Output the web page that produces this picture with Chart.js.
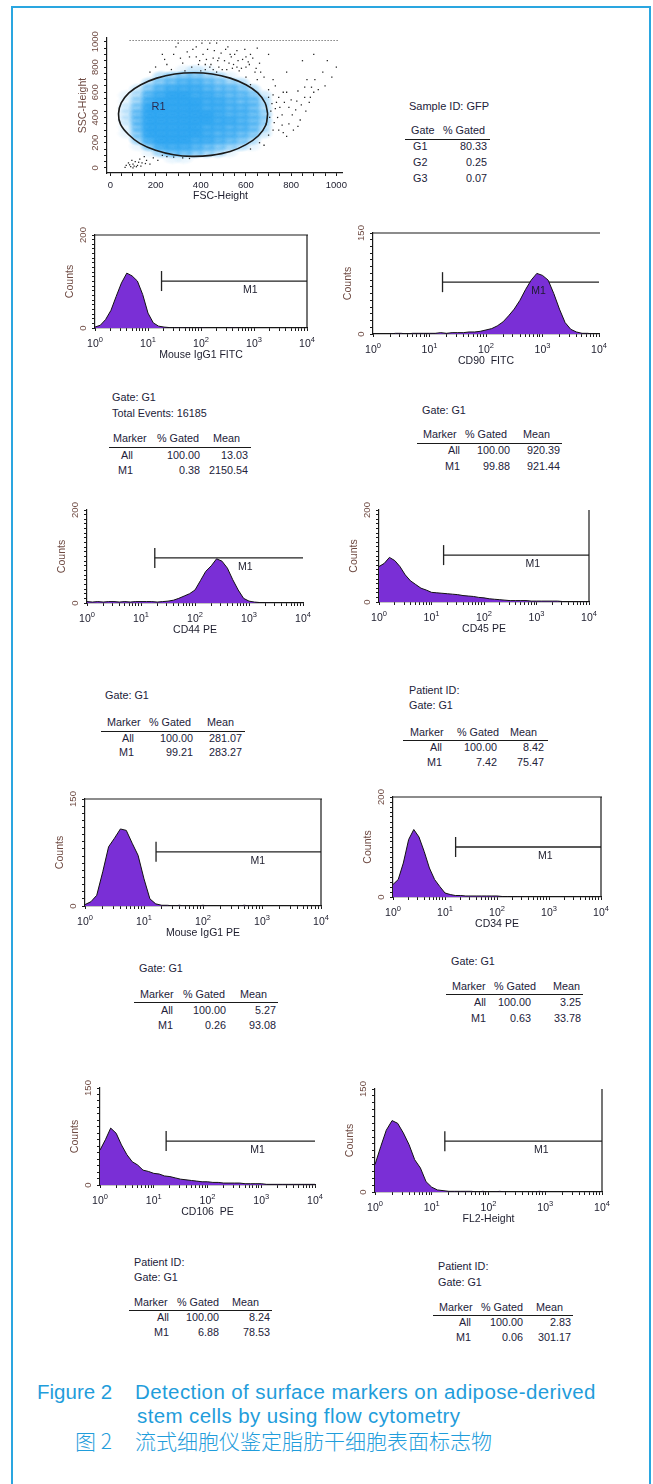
<!DOCTYPE html>
<html lang="en">
<head>
<meta charset="UTF-8" />
<title>Figure 2 - flow cytometry of adipose-derived stem cells</title>
<script src="https://cdn.jsdelivr.net/npm/chart.js"></script>
<style>
  body { margin: 0; background: #fff; font-family: "Liberation Sans", Arial, sans-serif; }
  #page { position: relative; width: 653px; height: 1484px; overflow: hidden; background: #fff; }
  #frame { position: absolute; left: 11px; top: 6px; width: 636px; height: 1520px; border: 2px solid #2aa6e0; border-bottom: none; }
  canvas { position: absolute; }
  .t { position: absolute; font-size: 10.8px; line-height: 12px; color: #22223a; white-space: nowrap; }
  .r { text-align: right; width: 80px; }
  .hr { position: absolute; height: 0; border-top: 1.5px solid #1a1a1a; }
  .cap { position: absolute; color: #1f9ddb; font-size: 20.5px; line-height: 24px; white-space: nowrap; }
  .wide { letter-spacing: 0.4px; }
  .zh { font-family: "Noto Sans CJK SC", sans-serif; font-weight: 300; font-size: 21px; letter-spacing: 0; }
</style>
</head>
<body>
<div id="page"><div id="frame"></div></div>

<script>
  // ---- scatter: FSC vs SSC ----
  // event density (0-9) in 50-unit cells, rows from SSC 975 (top) down to 25
  const sscFscDensity = [
    [0,0,0,0,0,0,0,0,0,0,0,0,0,0,0,0,0,0,0,0],
    [0,0,0,0,0,0,0,0,0,0,0,0,0,0,0,0,0,0,0,0],
    [0,0,0,0,0,0,0,0,0,0,0,0,0,0,0,0,0,0,0,0],
    [0,0,0,0,0,0,0,0,0,0,0,0,0,0,0,0,0,0,0,0],
    [0,0,0,0,0,0,1,2,1,0,0,0,0,0,0,0,0,0,0,0],
    [0,0,0,0,3,4,5,5,4,3,1,0,0,0,0,0,0,0,0,0],
    [0,0,0,3,5,6,7,7,6,5,4,3,0,0,0,0,0,0,0,0],
    [0,0,2,5,7,8,8,8,7,6,6,5,3,0,0,0,0,0,0,0],
    [0,1,3,7,8,9,9,8,8,7,6,6,5,2,0,0,0,0,0,0],
    [0,1,4,8,9,9,9,9,8,8,7,6,6,3,0,0,0,0,0,0],
    [0,2,5,9,9,9,9,9,8,8,7,7,6,3,0,0,0,0,0,0],
    [0,2,6,9,9,9,9,9,9,8,7,7,6,4,0,0,0,0,0,0],
    [0,2,6,9,9,9,9,9,9,8,8,7,6,4,0,0,0,0,0,0],
    [0,1,6,9,9,9,9,9,8,8,7,7,6,3,0,0,0,0,0,0],
    [0,1,5,9,9,9,9,9,8,7,7,6,5,2,0,0,0,0,0,0],
    [0,0,4,8,9,9,9,8,8,7,6,5,3,0,0,0,0,0,0,0],
    [0,0,1,5,8,8,8,7,6,5,4,3,1,0,0,0,0,0,0,0],
    [0,0,0,1,4,6,6,5,4,3,1,0,0,0,0,0,0,0,0,0],
    [0,0,0,0,0,1,1,0,0,0,0,0,0,0,0,0,0,0,0,0],
    [0,0,0,0,0,0,0,0,0,0,0,0,0,0,0,0,0,0,0,0]
  ];
  // events outside the R1 gate [FSC, SSC]
  const outlierEvents = [
    [310,870],[340,920],[360,800],[380,960],[395,850],[410,900],[420,780],[430,940],[445,820],[455,870],
    [470,990],[480,800],[490,910],[505,850],[515,780],[520,960],[535,880],[545,820],[560,930],[570,770],
    [585,860],[600,800],[620,900],[640,760],[660,830],[250,820],[270,780],[290,960],[230,900],[330,770],
    [400,770],[470,760],[380,880],[455,780],[540,790],[600,720],[620,660],[700,620],[720,580],[735,520],
    [750,480],[760,420],[780,600],[800,540],[820,460],[840,380],[860,560],[880,520],[900,600],[690,350],
    [720,300],[760,340],[780,250],[710,450],[740,400],[810,300],[870,700],[960,850],[1000,800],[950,650],
    [980,720],[850,850],[780,760],[720,700],[900,900],[70,20],[80,40],[90,10],[95,60],[100,30],
    [110,50],[120,20],[130,70],[140,40],[150,90],[160,60],[175,30],[190,80],[210,60],[230,100],
    [250,90],[280,85],[320,80],[350,75],[100,0],[85,25],[65,5],[620,150],[660,200],[700,260],
    [680,180],[730,650],[770,520],[830,610],[890,640],[610,840],[650,950],[700,900],[300,990],[440,990],
    [320,830],[350,880],[365,940],[390,820],[405,990],[425,860],[440,800],[460,930],[475,850],[495,780],
    [510,940],[525,830],[550,900],[565,850],[580,790],[595,940],[615,820],[630,870],[645,790],[665,760],
    [680,720],[650,700],[700,560],[715,510],[730,470],[745,560],[765,600],[790,480],[805,420],[825,530],
    [845,500],[865,450],[885,560],[705,400],[725,360],[745,300],[765,280],[790,350],[830,330],[860,640],
    [905,700],[920,620],[940,760],[420,820],[480,870],[530,900],[560,800],[600,880],[240,860],[200,800],
    [280,900],[175,760],[115,10],[135,15],[155,35],[125,45],[105,15]
  ];
  const saturatedRow = [[85, 1010], [1010, 1010]];
  const gateR1 = [
    [696,430],[685,515],[652,595],[600,660],[530,712],[450,745],[370,755],[285,745],[205,712],[135,660],
    [82,595],[48,515],[36,430],[45,345],[80,265],[130,195],[200,140],[280,105],[360,92],[445,100],
    [530,130],[600,185],[655,255],[688,340],[696,430]
  ];
  const scatterTickLabels = [0, 200, 400, 600, 800, 1000];

  // ---- histograms: counts at 0.1-decade channels ----
  const channels = [1, 1.26, 1.58, 2, 2.51, 3.16, 3.98, 5.01, 6.31, 7.94,
    10, 12.6, 15.8, 20, 25.1, 31.6, 39.8, 50.1, 63.1, 79.4,
    100, 126, 158, 200, 251, 316, 398, 501, 631, 794,
    1000, 1259, 1585, 1995, 2512, 3162, 3981, 5012, 6310, 7943, 10000];
  const mouseIgG1Fitc = [2,6,18,38,68,97,118,112,101,72, 32,11,4,2,1,1,0,1,0,0, 1,0,0,0,0,0,1,0,0,0, 0,0,0,0,0,0,0,0,0,0, 0];
  const cd90Fitc      = [0,0,0,0,1,1,0,1,1,1, 1,1,2,1,2,2,2,3,3,4, 6,8,12,18,27,37,50,66,80,90, 87,80,60,37,17,7,3,1,1,0, 0];
  const cd44Pe        = [3,2,3,2,3,3,2,3,2,3, 3,3,3,2,3,4,6,10,15,20, 28,48,68,80,95,90,75,50,28,10, 4,2,1,1,0,0,0,0,0,0, 0];
  const cd45Pe        = [77,84,97,90,77,59,46,38,30,26, 21,20,19,18,17,16,14,13,12,10, 9,7,6,5,4,3,3,3,3,2, 2,2,2,2,2,1,1,1,1,1, 1];
  const mouseIgG1Pe   = [2,6,15,48,83,95,108,106,88,71, 38,10,3,1,1,0,1,0,0,0, 1,0,0,0,0,0,0,1,0,0, 0,0,0,0,0,0,0,0,0,0, 0];
  const cd34Pe        = [25,35,68,115,135,120,91,58,35,21, 8,5,3,3,2,2,2,2,2,2, 2,1,1,1,1,0,0,0,0,0, 0,0,0,0,0,0,0,0,0,0, 0];
  const cd106Pe       = [54,70,88,80,62,47,36,31,23,21, 18,17,14,13,11,9,8,7,6,5, 5,4,4,3,3,3,3,2,2,2, 2,1,1,1,1,1,1,1,1,1, 1];
  const fl2Height     = [40,66,90,104,100,86,69,47,35,15, 7,3,2,1,1,1,1,1,0,1, 0,0,1,0,0,0,0,0,0,1, 0,0,0,0,0,0,0,0,0,0, 0];

  const histTitles = ['Mouse IgG1 FITC', 'CD90  FITC', 'CD44 PE', 'CD45 PE', 'Mouse IgG1 PE', 'CD34 PE', 'CD106  PE', 'FL2-Height'];
  const histMax = [200, 150, 200, 200, 150, 200, 150, 150];
  const m1Start = [18, 17, 18, 17, 16, 16, 17, 17];
  const m1Level = [101, 77, 97, 102, 76, 100, 68, 74];
  const decades = [1, 10, 100, 1000, 10000];
  const decadeExp = ['0', '1', '2', '3', '4'];

  // ---- statistics tables ----
  const gateNames = ['G1', 'G2', 'G3'];
  const gatePct = [80.33, 0.25, 0.07];
  const pctAll = [100, 100, 100, 100, 100, 100, 100, 100];
  const pctM1 = [0.38, 99.88, 99.21, 7.42, 0.26, 0.63, 6.88, 0.06];
  const meanAll = [13.03, 920.39, 281.07, 8.42, 5.27, 3.25, 8.24, 2.83];
  const meanM1 = [2150.54, 921.44, 283.27, 75.47, 93.08, 33.78, 78.53, 301.17];

  const page = document.getElementById('page');
  const INK = '#1c1c2c';
  const BROWN = '#6e4a42';

  function addCanvas(left, top, w, h) {
    const cv = document.createElement('canvas');
    cv.width = w; cv.height = h;
    cv.style.left = left + 'px'; cv.style.top = top + 'px';
    page.appendChild(cv);
    return cv;
  }

  function rotText(ctx, txt, x, y) {
    ctx.save();
    ctx.translate(x, y);
    ctx.rotate(-Math.PI / 2);
    ctx.textAlign = 'center'; ctx.textBaseline = 'middle';
    ctx.fillText(txt, 0, 0);
    ctx.restore();
  }

  // axis labels, frame and marker label for the FACS-style panels
  const facsText = {
    id: 'facs',
    afterDraw(chart, args, o) {
      const { ctx, chartArea: a, scales: { x, y } } = chart;
      ctx.save();
      ctx.strokeStyle = '#1a1a1a'; ctx.lineWidth = 1.2;
      ctx.beginPath();
      if (o.frame === 'box' || o.frame === 'top') { ctx.moveTo(a.left, a.top); ctx.lineTo(a.right + 1, a.top); }
      if (o.frame === 'box' || o.frame === 'right') { ctx.moveTo(a.right, a.top); ctx.lineTo(a.right, a.bottom); }
      ctx.stroke();

      ctx.fillStyle = INK;
      if (o.kind === 'hist') {
        decades.forEach((d, i) => {
          const px = x.getPixelForValue(d);
          ctx.font = '10.5px "Liberation Sans"';
          const w1 = ctx.measureText('10').width;
          ctx.font = '7.5px "Liberation Sans"';
          const w2 = ctx.measureText(decadeExp[i]).width;
          const x0 = px - (w1 + w2) / 2;
          ctx.textAlign = 'left'; ctx.textBaseline = 'alphabetic';
          ctx.font = '10.5px "Liberation Sans"';
          ctx.fillText('10', x0, a.bottom + 19);
          ctx.font = '7.5px "Liberation Sans"';
          ctx.fillText(decadeExp[i], x0 + w1, a.bottom + 14);
        });
        ctx.font = '10.5px "Liberation Sans"';
        ctx.textAlign = 'center'; ctx.textBaseline = 'middle';
        ctx.fillText(o.title, (a.left + a.right) / 2, a.bottom + 27);
        ctx.font = '10.5px "Liberation Sans"';
        ctx.fillText('M1', x.getPixelForValue(850), y.getPixelForValue(o.m1) + 9);
        ctx.fillStyle = BROWN;
        ctx.font = '9.5px "Liberation Sans"';
        rotText(ctx, String(o.ymax), a.left - 12, y.getPixelForValue(o.ymax));
        rotText(ctx, '0', a.left - 12, y.getPixelForValue(0));
        ctx.font = '10.5px "Liberation Sans"';
        rotText(ctx, 'Counts', a.left - 25, (a.top + a.bottom) / 2);
      } else {
        ctx.font = '9.5px "Liberation Sans"';
        ctx.textAlign = 'center'; ctx.textBaseline = 'middle';
        scatterTickLabels.forEach(v => ctx.fillText(String(v), x.getPixelForValue(v), a.bottom + 12));
        ctx.font = '10.5px "Liberation Sans"';
        ctx.fillText('FSC-Height', (a.left + a.right) / 2 - 4, a.bottom + 23);
        ctx.fillStyle = '#2a2a50';
        ctx.font = '11px "Liberation Sans"';
        ctx.fillText('R1', x.getPixelForValue(213), y.getPixelForValue(486));
        ctx.fillStyle = BROWN;
        ctx.font = '9.5px "Liberation Sans"';
        scatterTickLabels.forEach(v => rotText(ctx, String(v), a.left - 12, y.getPixelForValue(v)));
        ctx.font = '10.5px "Liberation Sans"';
        rotText(ctx, 'SSC-Height', a.left - 24, (a.top + a.bottom) / 2);
      }
      ctx.restore();
    }
  };

  const axisLine = { display: true, color: '#1a1a1a', width: 1.2 };
  const tickGrid = { drawOnChartArea: false, drawTicks: true, tickLength: 3, color: '#1a1a1a', lineWidth: 1 };

  // ---- scatter panel ----
  // one soft blob per density level; neighbouring blobs overlap into a cloud
  const tiles = [null];
  for (let lv = 1; lv <= 9; lv++) {
    const c = document.createElement('canvas');
    c.width = 22; c.height = 13;
    const g = c.getContext('2d');
    g.scale(1, 13 / 22);
    const a = Math.min(1, 0.105 * lv);
    const grad = g.createRadialGradient(11, 11, 0, 11, 11, 11);
    grad.addColorStop(0, 'rgba(34,160,240,' + a + ')');
    grad.addColorStop(0.55, 'rgba(34,160,240,' + (a * 0.8) + ')');
    grad.addColorStop(1, 'rgba(34,160,240,0)');
    g.fillStyle = grad;
    g.fillRect(0, 0, 22, 22);
    tiles.push(c);
  }

  const cells = [];
  sscFscDensity.forEach((row, r) => row.forEach((lv, c) => {
    if (lv > 0) cells.push({ x: 25 + 50 * c, y: 975 - 50 * r, v: lv });
  }));

  (function () {
    const box = { l: 107, r: 342, t: 38, b: 173 };
    const pl = 45, pt = 8, pr = 12, pb = 32;
    const cv = addCanvas(box.l - pl, box.t - pt, box.r - box.l + pl + pr, box.b - box.t + pt + pb);
    const xt = [], yt = [];
    for (let v = 0; v <= 1000; v += 50) { xt.push({ value: v }); yt.push({ value: v }); }
    new Chart(cv, {
      type: 'scatter',
      data: {
        datasets: [
          { data: cells, order: 4, pointStyle: ctx => tiles[ctx.raw ? ctx.raw.v : 1], pointRadius: 3 },
          { data: outlierEvents.map(p => ({ x: p[0], y: p[1] })), order: 3, pointStyle: 'rect', pointRadius: 0.9,
            backgroundColor: '#222', borderWidth: 0 },
          { data: saturatedRow.map(p => ({ x: p[0], y: p[1] })), order: 2, showLine: true, pointRadius: 0,
            borderColor: '#444', borderWidth: 1.2, borderDash: [1, 2] },
          { data: gateR1.map(p => ({ x: p[0], y: p[1] })), order: 1, showLine: true, pointRadius: 0,
            borderColor: '#1a1a1a', borderWidth: 1.6, tension: 0.35 }
        ]
      },
      options: {
        responsive: false, animation: false,
        layout: { padding: { left: 0, top: pt, right: pr, bottom: 0 } },
        plugins: { legend: { display: false }, tooltip: { enabled: false }, facs: { kind: 'scatter', frame: 'none' } },
        scales: {
          x: { type: 'linear', min: -15, max: 1025, ticks: { display: false },
               afterBuildTicks: s => { s.ticks = xt; }, afterFit: s => { s.height = pb; },
               grid: tickGrid, border: axisLine },
          y: { type: 'linear', min: -40, max: 1030, ticks: { display: false },
               afterBuildTicks: s => { s.ticks = yt; }, afterFit: s => { s.width = pl; },
               grid: tickGrid, border: axisLine }
        }
      },
      plugins: [facsText]
    });
  })();

  // ---- histogram panels ----
  const histCounts = [mouseIgG1Fitc, cd90Fitc, cd44Pe, cd45Pe, mouseIgG1Pe, cd34Pe, cd106Pe, fl2Height];
  const histBoxes = [
    { l: 95, r: 307, t: 235, b: 328, frame: 'box' },
    { l: 373, r: 599, t: 233, b: 334, frame: 'top' },
    { l: 87, r: 303, t: 510, b: 603, frame: 'none' },
    { l: 379, r: 589, t: 510, b: 602, frame: 'right' },
    { l: 85, r: 321, t: 799, b: 906, frame: 'box' },
    { l: 393, r: 601, t: 797, b: 897, frame: 'box' },
    { l: 100, r: 315, t: 1088, b: 1185, frame: 'none' },
    { l: 375, r: 602, t: 1089, b: 1192, frame: 'right' }
  ];
  const logTicks = [];
  decades.slice(0, 4).forEach(d => { for (let k = 1; k <= 9; k++) logTicks.push({ value: d * k }); });
  logTicks.push({ value: 10000 });

  histCounts.forEach((counts, i) => {
    const box = histBoxes[i];
    const pl = 45, pt = 12, pr = 15, pb = 38;
    const cv = addCanvas(box.l - pl, box.t - pt, box.r - box.l + pl + pr, box.b - box.t + pt + pb);
    const ymax = histMax[i];
    const yt = [];
    for (let v = 0; v <= ymax; v += 10) yt.push({ value: v });
    const half = ymax * 10 / (box.b - box.t);
    new Chart(cv, {
      type: 'line',
      data: {
        datasets: [
          { data: channels.map((c, k) => ({ x: c, y: counts[k] })), fill: 'origin',
            backgroundColor: '#7a2fd6', borderColor: '#111', borderWidth: 1, pointRadius: 0, tension: 0 },
          { data: [{ x: m1Start[i], y: m1Level[i] }, { x: 10000, y: m1Level[i] }], fill: false,
            borderColor: '#222', borderWidth: 1.3, pointRadius: 0 },
          { data: [{ x: m1Start[i], y: m1Level[i] - half }, { x: m1Start[i], y: m1Level[i] + half }], fill: false,
            borderColor: '#222', borderWidth: 1.3, pointRadius: 0 }
        ]
      },
      options: {
        responsive: false, animation: false,
        layout: { padding: { left: 0, top: pt, right: pr, bottom: 0 } },
        plugins: {
          legend: { display: false }, tooltip: { enabled: false },
          facs: { kind: 'hist', frame: box.frame, title: histTitles[i], ymax: ymax, m1: m1Level[i] }
        },
        scales: {
          x: { type: 'logarithmic', min: 1, max: 10000, ticks: { display: false },
               afterBuildTicks: s => { s.ticks = logTicks; }, afterFit: s => { s.height = pb; },
               grid: tickGrid, border: axisLine },
          y: { type: 'linear', min: 0, max: ymax, ticks: { display: false },
               afterBuildTicks: s => { s.ticks = yt; }, afterFit: s => { s.width = pl; },
               grid: tickGrid, border: axisLine }
        }
      },
      plugins: [facsText]
    });
  });

  // ---- text tables ----
  function txt(s, x, y, cls, right) {
    const d = document.createElement('div');
    d.className = 't' + (right ? ' r' : '') + (cls ? ' ' + cls : '');
    d.textContent = s;
    d.style.left = (right ? x - 80 : x) + 'px';
    d.style.top = (y - 6) + 'px';
    page.appendChild(d);
    return d;
  }
  function rule(x0, x1, y) {
    const d = document.createElement('div');
    d.className = 'hr';
    d.style.left = x0 + 'px'; d.style.width = (x1 - x0) + 'px'; d.style.top = y + 'px';
    page.appendChild(d);
  }

  // sample gate table
  txt('Sample ID: GFP', 409, 106).style.fontSize = '11px';
  txt('Gate', 411, 130); txt('% Gated', 443, 130);
  rule(405, 490, 139);
  const gateRowY = [146, 162, 178];
  gateNames.forEach((g, k) => {
    txt(g, 413, gateRowY[k]);
    txt(gatePct[k].toFixed(2), 487, gateRowY[k], '', true);
  });

  const tableLayout = [
    { pre: ['Gate: G1', 'Total Events: 16185'], preY: [397, 413], px: 112, hy: 438, cols: [113, 157, 213], line: [109, 251, 447], rows: [455, 470], rights: [133, 200, 248] },
    { pre: ['Gate: G1'], preY: [410], px: 422, hy: 434, cols: [423, 465, 523], line: [417, 562, 443], rows: [450, 466], rights: [460, 510, 560] },
    { pre: ['Gate: G1'], preY: [695], px: 105, hy: 722, cols: [107, 149, 207], line: [101, 245, 731], rows: [738, 752], rights: [134, 193, 242] },
    { pre: ['Patient ID:', 'Gate: G1'], preY: [690, 705], px: 409, hy: 732, cols: [410, 457, 510], line: [403, 548, 740], rows: [747, 762], rights: [442, 497, 544] },
    { pre: ['Gate: G1'], preY: [968], px: 139, hy: 994, cols: [140, 183, 240], line: [134, 278, 1002], rows: [1010, 1025], rights: [173, 226, 276] },
    { pre: ['Gate: G1'], preY: [961], px: 451, hy: 986, cols: [452, 494, 553], line: [446, 583, 994], rows: [1002, 1018], rights: [486, 531, 581] },
    { pre: ['Patient ID:', 'Gate: G1'], preY: [1262, 1277], px: 134, hy: 1302, cols: [134, 177, 232], line: [129, 272, 1310], rows: [1317, 1332], rights: [169, 219, 270] },
    { pre: ['Patient ID:', 'Gate: G1'], preY: [1266, 1282], px: 438, hy: 1307, cols: [439, 481, 536], line: [433, 573, 1315], rows: [1322, 1337], rights: [471, 523, 571] }
  ];
  tableLayout.forEach((t, i) => {
    t.pre.forEach((s, k) => txt(s, t.px, t.preY[k]));
    ['Marker', '% Gated', 'Mean'].forEach((h, k) => txt(h, t.cols[k], t.hy));
    rule(t.line[0], t.line[1], t.line[2]);
    const rowsData = [['All', pctAll[i], meanAll[i]], ['M1', pctM1[i], meanM1[i]]];
    rowsData.forEach((r, k) => {
      txt(r[0], t.rights[0], t.rows[k], '', true);
      txt(r[1].toFixed(2), t.rights[1], t.rows[k], '', true);
      txt(r[2].toFixed(2), t.rights[2], t.rows[k], '', true);
    });
  });

  // ---- caption ----
  function cap(s, x, y, cls) {
    const d = document.createElement('div');
    d.className = 'cap' + (cls ? ' ' + cls : '');
    d.textContent = s;
    d.style.left = x + 'px'; d.style.top = (y - 12) + 'px';
    page.appendChild(d);
  }
  cap('Figure 2', 37, 1392);
  cap('Detection of surface markers on adipose-derived', 135, 1392, 'wide');
  cap('stem cells by using flow cytometry', 137, 1416, 'wide');
  cap('图 2', 75, 1440, 'zh');
  cap('流式细胞仪鉴定脂肪干细胞表面标志物', 135, 1440, 'zh');
</script>
</body>
</html>
